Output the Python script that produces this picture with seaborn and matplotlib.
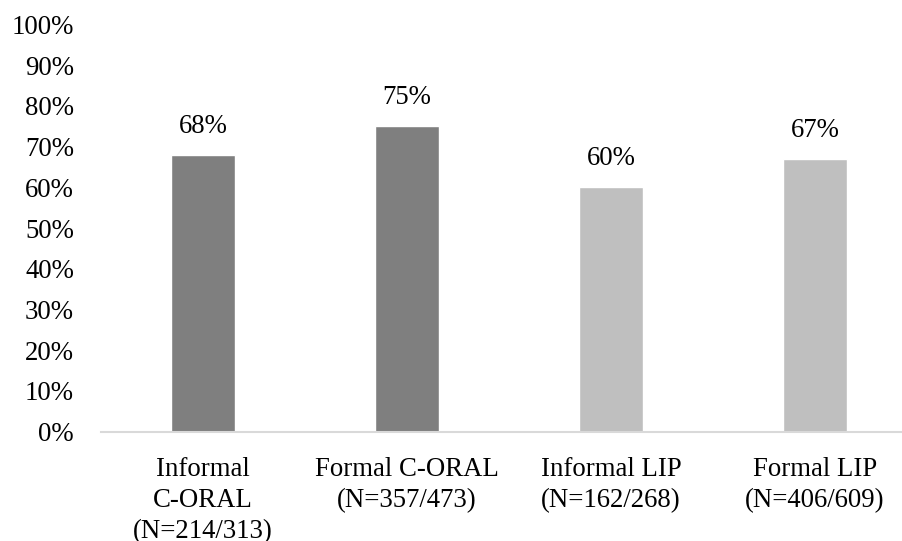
import matplotlib
matplotlib.use("Agg")
import matplotlib.pyplot as plt
import seaborn as sns
import pandas as pd

categories = ["Informal\nC-ORAL\n(N=214/313)", "Formal C-ORAL\n(N=357/473)",
              "Informal LIP\n(N=162/268)", "Formal LIP\n(N=406/609)"]
values = [68, 75, 60, 67]
colors = ["#7f7f7f", "#7f7f7f", "#bfbfbf", "#bfbfbf"]
y_ticks = [0, 10, 20, 30, 40, 50, 60, 70, 80, 90, 100]

sns.set_theme(style="white")
plt.rcParams["font.family"] = ["Liberation Serif", "DejaVu Serif"]

df = pd.DataFrame({"category": categories, "value": values})

FS = 19.3

fig = plt.figure(figsize=(9.02, 5.41), dpi=100)
# plot area runs slightly past the right edge of the figure
ax = fig.add_axes([101 / 902, 1 - 431.7 / 541, 816 / 902, (431.7 - 24.5) / 541])

sns.barplot(data=df, x="category", y="value", hue="category",
            palette=colors, width=0.314, legend=False, ax=ax, saturation=1)

ax.set_xlim(-0.5, 3.5)
ax.set_ylim(0, 100)
ax.set_yticks(y_ticks)
ax.set_yticklabels([f"{t}%" for t in y_ticks])
ax.set_xlabel("")
ax.set_ylabel("")

for s in ["top", "right", "left"]:
    ax.spines[s].set_visible(False)
ax.spines["bottom"].set_color("#d9d9d9")
ax.spines["bottom"].set_linewidth(1.5)

ax.tick_params(axis="y", length=0, pad=19.5, labelsize=FS, colors="black")
ax.tick_params(axis="x", length=0, pad=18, labelsize=FS, colors="black")
for lbl in ax.get_xticklabels():
    lbl.set_linespacing(1.32)

for i, v in enumerate(values):
    ax.annotate(f"{v}%", xy=(i, v), xytext=(0, 11.5), textcoords="offset points",
                ha="center", va="bottom", fontsize=FS, color="black")

fig.savefig("out.png", dpi=100)
